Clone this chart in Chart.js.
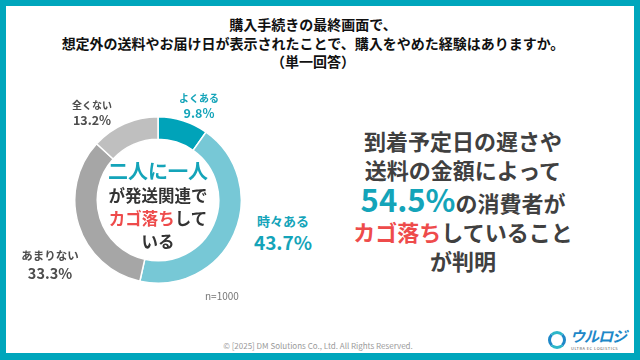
<!DOCTYPE html>
<html><head><meta charset="utf-8">
<script src="https://cdn.jsdelivr.net/npm/chart.js@4"></script>
<style>
html,body{margin:0;padding:0;}
body{width:640px;height:360px;position:relative;overflow:hidden;background:#00A6BC;font-family:"Noto Sans CJK JP","Noto Sans",sans-serif;}
#panel{position:absolute;left:6px;top:6px;width:628px;height:347px;background:#fff;}
.abs{position:absolute;white-space:nowrap;}
#title{left:0;top:15px;width:626px;text-align:center;font-weight:bold;font-size:14px;line-height:18.5px;color:#111;}
#chartBox{position:absolute;left:74px;top:116px;width:168px;height:168px;}
.lbl{position:absolute;text-align:center;font-weight:bold;white-space:nowrap;transform:translateX(-50%);}
#center{left:158px;top:159px;transform:translateX(-50%);text-align:center;font-weight:bold;color:#333;font-size:16.5px;line-height:23px;}
#right{left:463px;top:126px;transform:translateX(-50%);text-align:center;font-weight:bold;color:#404040;font-size:22px;line-height:29px;}
.teal{color:#14A4B9;}
.red{color:#EE4B4B;}
#nlab{left:205px;top:288px;font-size:10px;color:#777;}
#copy{left:0;top:340px;width:636px;text-align:center;font-size:8px;color:#9a9a9a;}
#logo{left:548px;top:328px;width:80px;height:24px;}
</style></head>
<body>
<div id="panel"></div>
<div id="title" class="abs">購入手続きの最終画面で、<br>想定外の送料やお届け日が表示されたことで、購入をやめた経験はありますか。<br>（単一回答）</div>
<div id="chartBox"><canvas id="c"></canvas></div>
<div id="labels"></div>
<div id="center" class="abs"><span class="teal" style="font-size:20px;">二人に一人</span><br>が発送関連で<br><span class="red">カゴ落ち</span>して<br>いる</div>
<div id="right" class="abs">到着予定日の遅さや<br>送料の金額によって<br><span class="teal" style="font-size:31px;">54.5%</span>の消費者が<br><span class="red">カゴ落ち</span>していること<br>が判明</div>
<div id="nlab" class="abs">n=1000</div>
<div id="copy" class="abs">© [2025] DM Solutions Co., Ltd. All Rights Reserved.</div>
<div id="logo" class="abs">
  <div style="position:absolute;left:0;top:3px;width:12px;height:12px;border-radius:50%;border:3px solid #1E88C8;border-top-color:#2DB7C9;border-bottom-color:#2DB7C9;"></div>
  <div style="position:absolute;left:22px;top:0px;font-size:15px;line-height:16px;font-weight:bold;color:#1E88C8;font-style:italic;letter-spacing:-1px;">ウルロジ</div>
  <div style="position:absolute;left:23px;top:18px;font-size:4px;line-height:4px;color:#555;letter-spacing:0.5px;">ULTRA EC LOGISTICS</div>
</div>
<script>
const categories = ["よくある", "時々ある", "あまりない", "全くない"];
const values = [9.8, 43.7, 33.3, 13.2];
const colors = ["#00A3B9", "#77C8D6", "#A6A6A6", "#BFBFBF"];

// label placement styles (not data)
const labelStyles = [
  {left:199, top:90, color:"#14A4B9", cat:10, val:12.5},
  {left:283, top:211, color:"#14A4B9", cat:13, val:19},
  {left:50, top:247, color:"#4D4D4D", cat:11.5, val:14.5},
  {left:92, top:97, color:"#4D4D4D", cat:10, val:12.5}
];
const lblWrap = document.getElementById('labels');
categories.forEach((c,i)=>{
  const s = labelStyles[i];
  const d = document.createElement('div');
  d.className = 'lbl';
  d.style.left = s.left+'px'; d.style.top = s.top+'px'; d.style.color = s.color;
  d.innerHTML = '<span style="font-size:'+s.cat+'px;line-height:'+(s.cat*1.5)+'px;display:block;">'+c+'</span>'+
    '<span style="font-size:'+s.val+'px;line-height:'+(s.val*1.2)+'px;display:block;">'+values[i].toFixed(1)+'%</span>';
  lblWrap.appendChild(d);
});

new Chart(document.getElementById('c'), {
  type: 'doughnut',
  data: {
    labels: categories,
    datasets: [{
      data: values,
      backgroundColor: colors,
      borderColor: '#ffffff',
      borderWidth: 1.5
    }]
  },
  options: {
    responsive: true,
    maintainAspectRatio: false,
    animation: false,
    cutout: '73%',
    rotation: 0,
    layout: {padding: 0},
    plugins: {legend: {display: false}, tooltip: {enabled: false}}
  }
});
</script>
</body></html>
